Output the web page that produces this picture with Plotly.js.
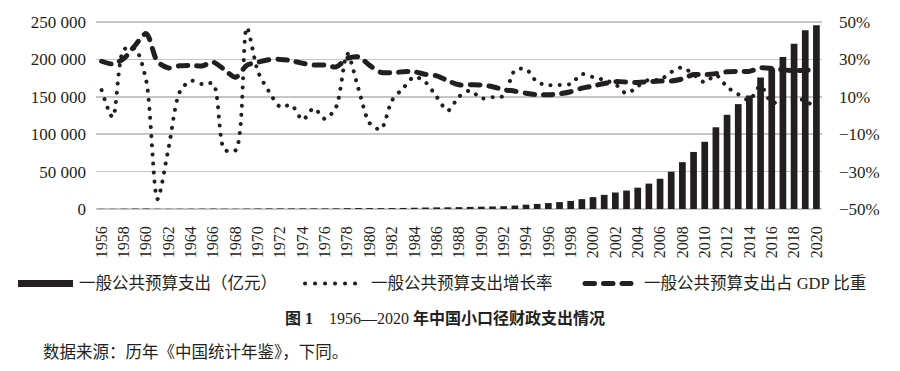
<!DOCTYPE html>
<html>
<head>
<meta charset="utf-8">
<script src="https://cdn.plot.ly/plotly-3.0.1.min.js"></script>
<style>
html,body{margin:0;padding:0;background:#ffffff;}
#chart{width:900px;height:371px;}
.scatterlayer path.js-line{stroke-linecap:round;stroke-linejoin:round;}
.shapelayer path{stroke-linecap:round;}
</style>
</head>
<body>
<div id="chart"></div>
<script>
// ---- data ----
const years = [1956,1957,1958,1959,1960,1961,1962,1963,1964,1965,1966,1967,1968,1969,1970,
  1971,1972,1973,1974,1975,1976,1977,1978,1979,1980,1981,1982,1983,1984,1985,1986,1987,1988,
  1989,1990,1991,1992,1993,1994,1995,1996,1997,1998,1999,2000,2001,2002,2003,2004,2005,2006,
  2007,2008,2009,2010,2011,2012,2013,2014,2015,2016,2017,2018,2019,2020];

// 一般公共预算支出（亿元）
const expenditure = [298.52,295.95,400.36,543.17,643.68,356.09,294.88,332.05,393.79,459.97,
  537.65,439.84,357.84,525.86,649.41,732.17,765.86,808.78,790.25,820.88,806.20,843.53,
  1122.09,1281.79,1228.83,1138.41,1229.98,1409.52,1701.02,2004.25,2204.91,2262.18,2491.21,
  2823.78,3083.59,3386.62,3742.20,4642.30,5792.62,6823.72,7937.55,9233.56,10798.18,13187.67,
  15886.50,18902.58,22053.15,24649.95,28486.89,33930.28,40422.73,49781.35,62592.66,76299.93,
  89874.16,109247.79,125952.97,140212.10,151785.56,175877.77,187755.21,203085.49,220904.13,
  238858.37,245679.03];

// 一般公共预算支出增长率（%）
const growthRate = [13.6,-0.9,35.3,35.7,18.5,-44.7,-17.2,12.6,18.6,16.8,16.9,-18.2,-18.6,47.0,
  23.5,12.7,4.6,5.6,-2.3,3.9,-1.8,4.6,33.0,14.2,-4.1,-7.4,8.0,14.6,20.7,17.8,10.0,2.6,10.1,
  13.3,9.2,9.8,10.5,24.1,24.8,17.8,16.3,16.3,16.9,22.1,20.5,19.0,16.7,11.8,15.6,19.1,19.1,
  23.2,25.7,21.9,17.8,21.6,15.3,11.3,8.3,15.9,6.8,8.2,8.8,8.1,2.9];

// 一般公共预算支出占 GDP 比重（%）
const gdpShare = [29.0,27.6,30.5,37.5,43.8,28.9,25.4,26.6,26.8,26.5,28.5,24.5,20.5,26.8,28.5,
  29.8,30.0,29.3,27.9,27.0,27.0,26.0,30.5,31.3,26.8,23.1,22.9,23.4,23.4,22.0,21.2,18.6,16.4,
  16.4,16.3,15.4,13.8,13.0,11.9,11.1,11.1,11.6,12.7,14.6,15.8,17.1,18.1,17.9,17.6,18.1,18.4,
  18.4,19.6,21.9,21.8,22.4,23.4,23.6,23.6,25.5,25.2,24.4,24.0,24.2,24.2];

const xTickYears = [1956,1958,1960,1962,1964,1966,1968,1970,1972,1974,1976,1978,1980,1982,
  1984,1986,1988,1990,1992,1994,1996,1998,2000,2002,2004,2006,2008,2010,2012,2014,2016,2018,2020];
const leftTicks = [0,50000,100000,150000,200000,250000];
const rightTicks = [-50,-30,-10,10,30,50];
const rightTickLabels = ['\u221250%','\u221230%','\u221210%','10%','30%','50%'];

const seriesNames = ['一般公共预算支出（亿元）','一般公共预算支出增长率','一般公共预算支出占 GDP 比重'];
const captionText = '<b>图 1</b>\u30001956—2020 <b>年中国小口径财政支出情况</b>';
const sourceText = '数据来源：历年《中国统计年鉴》，下同。';

// ---- styling ----
const INK = '#231f20';
const GRID = '#c6c6c6';
const SERIF = 'Liberation Serif, Noto Sans CJK SC, serif';

const traces = [
  {
    type: 'bar', name: seriesNames[0], x: years, y: expenditure,
    marker: {color: INK, line: {width: 0}}, yaxis: 'y', hoverinfo: 'x+y'
  },
  {
    type: 'scatter', mode: 'lines', name: seriesNames[1], x: years, y: growthRate,
    yaxis: 'y2', line: {color: INK, width: 4, dash: '0.1px,9px', shape: 'spline', smoothing: 0.8}
  },
  {
    type: 'scatter', mode: 'lines', name: seriesNames[2], x: years, y: gdpShare,
    yaxis: 'y2', line: {color: INK, width: 5, dash: '9.5px,9px', shape: 'spline', smoothing: 0.8}
  }
];

// plot box: the top gridline (250 000 / 50%) sits 2px under the plot's top edge
const L = 96, R = 78, T = 20, B = 162, W = 900, H = 371;
const pw = W - L - R, ph = H - T - B;
const px = v => (v - L) / pw;
const py = v => (H - B - v) / ph;
const topPad = 2; // px between the top gridline and the plot edge
const leftRange = [0, 250000 * ph / (ph - topPad)];
const rightRange = [-50, -50 + 100 * ph / (ph - topPad)];

const legendY = 283.5;
const layout = {
  width: W, height: H,
  margin: {l: L, r: R, t: T, b: B, pad: 0},
  paper_bgcolor: '#ffffff', plot_bgcolor: '#ffffff',
  separators: '. ',
  showlegend: false,
  bargap: 0.4,
  font: {family: SERIF, size: 16, color: INK},
  xaxis: {
    type: 'linear', range: [1955.5, 2020.5],
    tickmode: 'array', tickvals: xTickYears, ticktext: xTickYears.map(String),
    tickangle: -90, tickfont: {family: SERIF, size: 16, color: INK},
    showgrid: false, zeroline: false, showline: false, ticks: '',
    ticklabelstandoff: 13, fixedrange: true
  },
  yaxis: {
    range: leftRange, tickmode: 'array', tickvals: leftTicks, tickformat: ',d',
    tickfont: {family: SERIF, size: 17, color: INK},
    showgrid: true, gridcolor: GRID, gridwidth: 1.6,
    zeroline: true, zerolinecolor: GRID, zerolinewidth: 1.6,
    showline: false, ticks: '', ticklabelstandoff: 9, fixedrange: true
  },
  yaxis2: {
    overlaying: 'y', side: 'right', range: rightRange,
    tickmode: 'array', tickvals: rightTicks, ticktext: rightTickLabels,
    tickfont: {family: SERIF, size: 17, color: INK},
    showgrid: false, zeroline: false, showline: false, ticks: '',
    ticklabelstandoff: 16, fixedrange: true
  },
  shapes: [
    {type: 'rect', xref: 'paper', yref: 'paper',
     x0: px(18), x1: px(73), y0: py(287), y1: py(280),
     fillcolor: INK, line: {width: 0}},
    {type: 'line', xref: 'paper', yref: 'paper',
     x0: px(305), x1: px(356), y0: py(legendY), y1: py(legendY),
     line: {color: INK, width: 4, dash: '0.1px,9.9px'}},
    {type: 'line', xref: 'paper', yref: 'paper',
     x0: px(585), x1: px(631), y0: py(legendY), y1: py(legendY),
     line: {color: INK, width: 5, dash: '9.5px,9px'}}
  ],
  annotations: [
    {xref: 'paper', yref: 'paper', x: px(77), y: py(legendY), xanchor: 'left', yanchor: 'middle',
     text: seriesNames[0], showarrow: false, font: {family: SERIF, size: 16.5, color: INK}},
    {xref: 'paper', yref: 'paper', x: px(369), y: py(legendY), xanchor: 'left', yanchor: 'middle',
     text: seriesNames[1], showarrow: false, font: {family: SERIF, size: 16.5, color: INK}},
    {xref: 'paper', yref: 'paper', x: px(642), y: py(legendY), xanchor: 'left', yanchor: 'middle',
     text: seriesNames[2], showarrow: false, font: {family: SERIF, size: 16.5, color: INK}},
    {xref: 'paper', yref: 'paper', x: px(445), y: py(318), xanchor: 'center', yanchor: 'middle',
     text: captionText, showarrow: false, font: {family: SERIF, size: 16, color: INK}},
    {xref: 'paper', yref: 'paper', x: px(41), y: py(352.5), xanchor: 'left', yanchor: 'middle',
     text: sourceText, showarrow: false, font: {family: SERIF, size: 16.5, color: INK}}
  ]
};

Plotly.newPlot('chart', traces, layout, {displayModeBar: false, staticPlot: true});
</script>
</body>
</html>
